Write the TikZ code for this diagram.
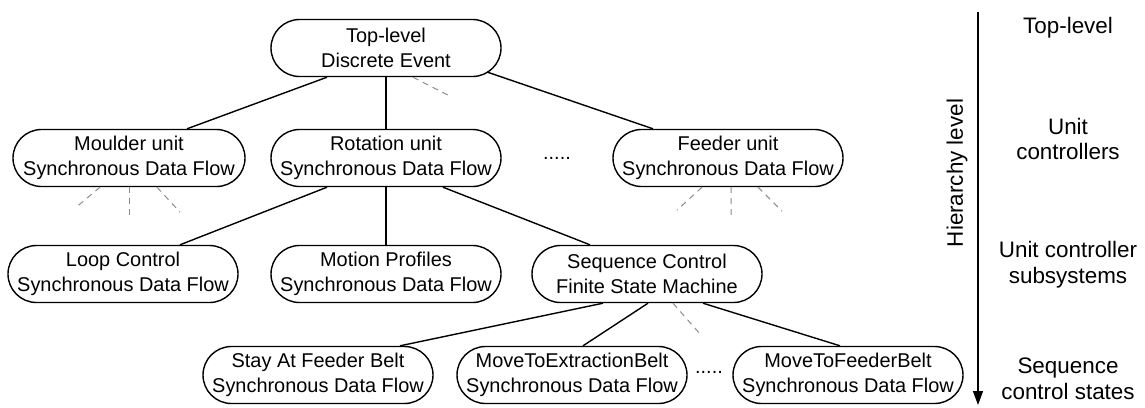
\documentclass[tikz,border=0pt]{standalone}
\usepackage{fontspec}
\setmainfont{Liberation Sans}
\usetikzlibrary{calc,arrows.meta}
\begin{document}
\begin{tikzpicture}[x=1bp,y=-1bp,
  blk/.style={draw,line width=1.4bp,rectangle,rounded corners=28.5bp,minimum width=230bp,minimum height=57bp,inner sep=0pt,align=center,font=\fontsize{20}{25}\selectfont},
  conn/.style={line width=1.4bp},
  dconn/.style={line width=1bp,draw=black!45,dash pattern=on 6bp off 5bp},
  lvl/.style={align=center,font=\fontsize{22.5}{26}\selectfont},
  dots/.style={anchor=base,inner sep=0pt,font=\fontsize{20}{24}\selectfont}]
\useasboundingbox (0,0) rectangle (1145,407);
\node[blk] (top) at (386,48) {Top-level\\Discrete Event};
\node[blk,minimum width=232bp] (moulder) at (129,158) {Moulder unit\\Synchronous Data Flow};
\node[blk] (rotation) at (386,158) {Rotation unit\\Synchronous Data Flow};
\node[blk] (feeder) at (728,158) {Feeder unit\\Synchronous Data Flow};
\node[blk] (loop) at (123,274) {Loop Control\\Synchronous Data Flow};
\node[blk] (motion) at (386,274) {Motion Profiles\\Synchronous Data Flow};
\node[blk] (seq) at (647,274) {Sequence Control\\Finite State Machine};
\node[blk] (stay) at (318,375) {Stay At Feeder Belt\\Synchronous Data Flow};
\node[blk] (mte) at (572,375) {MoveToExtractionBelt\\Synchronous Data Flow};
\node[blk] (mtf) at (848,375) {MoveToFeederBelt\\Synchronous Data Flow};
\node[dots] (d1) at (557,159) {.....};
\node[dots] (d2) at (709,373) {.....};
% solid connectors
\draw[conn] ([xshift=-59bp]top.south) -- ([xshift=58bp]moulder.north);
\draw[conn] (top.south) -- (rotation.north);
\draw[conn] ($(top.center)+(101,24)$) -- ([xshift=-75bp]feeder.north);
\draw[conn] ([xshift=-59bp]rotation.south) -- ([xshift=57bp]loop.north);
\draw[conn] (rotation.south) -- (motion.north);
\draw[conn] ([xshift=57bp]rotation.south) -- ([xshift=-57bp]seq.north);
\draw[conn] ([xshift=-44bp]seq.south) -- ([xshift=82bp]stay.north);
\draw[conn] ([xshift=1bp]seq.south) -- ([xshift=11bp]mte.north);
\draw[conn] ([xshift=56bp]seq.south) -- ([xshift=-8bp]mtf.north);
% dashed stubs
\coordinate (t1) at ($(top.south)+(66,20)$);
\draw[dconn] ([xshift=27bp]top.south) -- (t1);
\coordinate (m1) at ($(moulder.south)+(-54,21)$);
\coordinate (m2) at ($(moulder.south)+(0,28)$);
\coordinate (m3) at ($(moulder.south)+(51,25)$);
\draw[dconn] ([xshift=-29bp]moulder.south) -- (m1);
\draw[dconn] (moulder.south) -- (m2);
\draw[dconn] ([xshift=28bp]moulder.south) -- (m3);
\coordinate (f1) at ($(feeder.south)+(-51,23)$);
\coordinate (f2) at ($(feeder.south)+(3,28)$);
\coordinate (f3) at ($(feeder.south)+(54,24)$);
\draw[dconn] ([xshift=-26bp]feeder.south) -- (f1);
\draw[dconn] ([xshift=3bp]feeder.south) -- (f2);
\draw[dconn] ([xshift=30bp]feeder.south) -- (f3);
\coordinate (s1) at ($(seq.south)+(55,33)$);
\draw[dconn] ([xshift=26bp]seq.south) -- (s1);
% hierarchy axis
\coordinate (ax0) at (978,12);
\coordinate (ax1) at (978,405);
\draw[line width=1.4bp,-{Triangle[length=14bp,width=10bp]}] (ax0) -- (ax1);
\node[lvl,rotate=90] (hl) at (957,173) {Hierarchy level};
\node[lvl] (l1) at (1068,28) {Top-level};
\node[lvl] (l2) at (1068,139) {Unit\\controllers};
\node[lvl] (l3) at (1068,265) {Unit controller\\subsystems};
\node[lvl] (l4) at (1068,379) {Sequence\\control states};
\end{tikzpicture}
\end{document}
